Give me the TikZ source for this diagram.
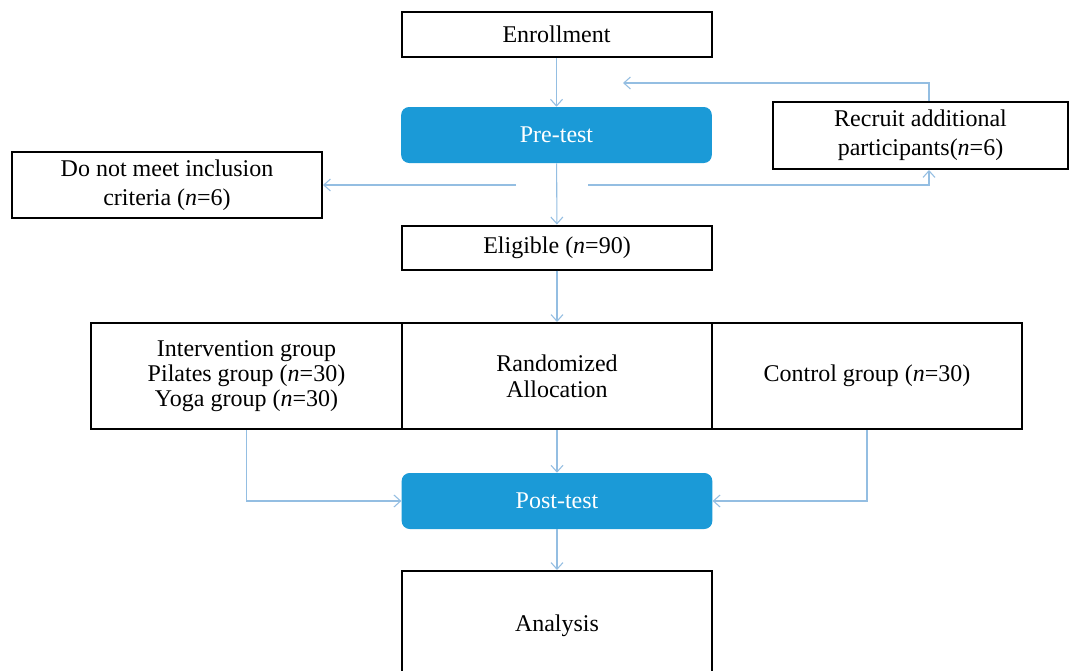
\documentclass[tikz,border=0pt]{standalone}
\usepackage{fontspec}
\setmainfont{Liberation Serif}
\usetikzlibrary{arrows.meta}
\definecolor{boxblue}{HTML}{1B9AD7}
\definecolor{linkblue}{HTML}{94BEE2}
\tikzset{
  txt/.style={font=\fontsize{18}{21.5}\selectfont, align=center, inner sep=0pt},
  plainbox/.style={txt, draw=black, line width=1.5pt, fill=white},
  bluebox/.style={txt, fill=boxblue, text=white, rounded corners=6pt},
  link/.style={draw=linkblue, line width=0.8pt, -{Straight Barb[length=5pt,width=9pt]}},
}
\begin{document}
\begin{tikzpicture}[x=0.75pt,y=-0.75pt]
\clip (0,0) rectangle (1071,671);
\fill[white] (0,0) rectangle (1071,671);

% nodes
\node[plainbox, minimum width=232.5pt, minimum height=33.75pt] (enroll) at (556.5,34.5) {Enrollment};
\node[bluebox, minimum width=233pt, minimum height=42pt] (pre) at (556.5,135) {Pre-test};
\node[plainbox, minimum width=232.5pt, minimum height=33pt] (elig) at (557,247.5) {Eligible (\textit{n}=90)};
\node[plainbox, minimum width=232.5pt, minimum height=49.5pt] (excl) at (167,185) {Do not meet inclusion\\criteria (\textit{n}=6)};
\node[plainbox, minimum width=221.25pt, minimum height=50.25pt] (recruit) at (920.5,135.5) {Recruit additional\\participants(\textit{n}=6)};

\node[plainbox, minimum width=233.25pt, minimum height=79.5pt, font=\fontsize{18}{19}\selectfont] (interv) at (246.5,376) {Intervention group\\Pilates group (\textit{n}=30)\\Yoga group (\textit{n}=30)};
\node[plainbox, minimum width=232.5pt, minimum height=79.5pt, font=\fontsize{18}{19.5}\selectfont] (rand) at (557,376) {Randomized\\Allocation};
\node[plainbox, minimum width=232.5pt, minimum height=79.5pt] (ctrl) at (867,376) {Control group (\textit{n}=30)};

\node[bluebox, minimum width=233pt, minimum height=42pt] (post) at (557,501) {Post-test};
\node[plainbox, minimum width=232.5pt, minimum height=82.5pt] (anal) at (557,626) {Analysis};

% free ends
\coordinate (splitL) at (516,185);
\coordinate (splitR) at (588,185);
\coordinate (turnR) at (929,185);
\coordinate (backtop) at (929,83);
\coordinate (backend) at (623,83);

% connectors
\draw[link] (enroll) -- (pre);
\draw[link] (pre) -- (elig);
\draw[link] (splitL) -- (excl.east);
\draw[link] (splitR) -- (turnR) -- (recruit.south -| turnR);
\draw[link] (recruit.north -| backtop) -- (backtop) -- (backend);
\draw[link] (elig) -- (rand);
\draw[link] (interv.south) |- (post.west);
\draw[link] (rand) -- (post);
\draw[link] (ctrl.south) |- (post.east);
\draw[link] (post) -- (anal);
\end{tikzpicture}
\end{document}
